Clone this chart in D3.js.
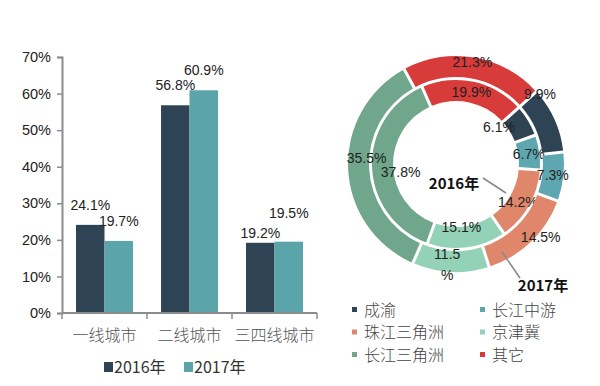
<!DOCTYPE html>
<html>
<head>
<meta charset="utf-8">
<script src="https://cdn.jsdelivr.net/npm/d3@7"></script>
<style>
  body { margin: 0; background: #fff; }
  svg { display: block; }
  .num { font-family: "Liberation Sans", Arial, sans-serif; fill: #222; }
  .cjk { font-family: "Noto Sans CJK SC", sans-serif; }
</style>
</head>
<body>
<div id="chart"></div>
<script>
// bar chart data
var categories = ["一线城市", "二线城市", "三四线城市"];
var years = ["2016年", "2017年"];
var share2016 = [24.1, 56.8, 19.2];
var share2017 = [19.7, 60.9, 19.5];
var yTicks = [0, 10, 20, 30, 40, 50, 60, 70];

// doughnut data
var regions = ["成渝", "长江中游", "珠江三角洲", "京津冀", "长江三角洲", "其它"];
var ring2016 = [6.1, 6.7, 14.2, 15.1, 37.8, 19.9];
var ring2017 = [9.9, 7.3, 14.5, 11.5, 35.5, 21.3];

var barColors = ["#2e4455", "#5ba4a9"];
var regionColors = ["#2e4455", "#5ea7b0", "#e0876b", "#93d2b7", "#70a68b", "#d73b3a"];

// label nudges (layout only)
var nudgeOuter = { "成渝": [-5, -30], "珠江三角洲": [17, 3], "京津冀": [-4, 0], "长江三角洲": [8, -10], "其它": [0, -6] };
var nudgeInner = { "成渝": [-20, 1], "京津冀": [-4, -10], "长江三角洲": [18, 6], "珠江三角洲": [-2, 2] };

var svg = d3.select("#chart").append("svg")
    .attr("width", 600)
    .attr("height", 386);

// ---------- bars ----------
var x0 = d3.scaleBand().domain(categories).range([62, 317])
    .paddingInner(0.33).paddingOuter(0.165);
var x1 = d3.scaleBand().domain(years).range([0, x0.bandwidth()]);
var y = d3.scaleLinear().domain([0, 70]).range([313, 57]);

var rows = categories.map(function(c, i) {
  return { cat: c, vals: [share2016[i], share2017[i]] };
});

// y axis
var yAxis = svg.append("g").attr("transform", "translate(62,0)")
    .call(d3.axisLeft(y).tickValues(yTicks).tickFormat(d => d + "%").tickSize(5).tickPadding(6));
yAxis.select(".domain").attr("stroke", "#8c8c8c").attr("stroke-width", 2);
yAxis.selectAll(".tick line").attr("stroke", "#8c8c8c").attr("stroke-width", 1.5);
yAxis.selectAll("text").attr("class", "num").style("font-size", "14.5px").attr("fill", "#2a2a2a");

// bars
var groups = svg.selectAll(".cat").data(rows).enter().append("g")
    .attr("transform", d => "translate(" + x0(d.cat) + ",0)");

groups.selectAll("rect").data(d => d.vals).enter().append("rect")
    .attr("x", (d, i) => x1(years[i]))
    .attr("y", d => y(d))
    .attr("width", x1.bandwidth())
    .attr("height", d => y(0) - y(d))
    .attr("fill", (d, i) => barColors[i]);

groups.selectAll(".lbl").data(function(d) {
    var close = Math.abs(d.vals[0] - d.vals[1]) < 2;
    return d.vals.map(function(v, i) {
      var off = -15;
      if (close) off = (v >= d.vals[1 - i]) ? -24 : -5;
      return { v: v, i: i, off: off };
    });
  }).enter().append("text")
    .attr("class", "num")
    .attr("x", d => x1(years[d.i]) + x1.bandwidth() / 2)
    .attr("y", d => y(d.v) + d.off)
    .attr("text-anchor", "middle")
    .style("font-size", "14px")
    .text(d => d.v.toFixed(1) + "%");

// x axis
var xAxis = svg.append("g").attr("transform", "translate(0,313)");
xAxis.append("line").attr("x1", 62).attr("x2", 317).attr("stroke", "#8c8c8c").attr("stroke-width", 2);
xAxis.selectAll(".tk").data([0, 1, 2, 3]).enter().append("line")
    .attr("x1", i => 62 + x0.step() * i).attr("x2", i => 62 + x0.step() * i)
    .attr("y1", 0).attr("y2", 6)
    .attr("stroke", "#8c8c8c").attr("stroke-width", 1.5);
xAxis.selectAll(".cl").data(categories).enter().append("text")
    .attr("class", "cjk")
    .attr("x", d => x0(d) + x0.bandwidth() / 2)
    .attr("y", 28)
    .attr("text-anchor", "middle")
    .attr("fill", "#555")
    .style("font-size", "16px")
    .style("font-weight", 300)
    .text(d => d);

// bar legend
var legX = [104, 184];
var bl = svg.selectAll(".bl").data(years).enter().append("g")
    .attr("transform", (d, i) => "translate(" + legX[i] + ",362)");
bl.append("rect").attr("width", 9).attr("height", 10).attr("y", 0)
    .attr("fill", (d, i) => barColors[i]);
bl.append("text").attr("x", 10).attr("y", 11)
    .attr("class", "cjk")
    .attr("fill", "#333")
    .style("font-size", "16px")
    .text(d => d);

// ---------- doughnut ----------
var cx = 456, cy = 164;
var start = 48 * Math.PI / 180;
var pie = d3.pie().sort(null).startAngle(start).endAngle(start + 2 * Math.PI);

var rings = [
  { name: "2016年", vals: ring2016, r0: 63, r1: 84, nudge: nudgeInner },
  { name: "2017年", vals: ring2017, r0: 87, r1: 108, nudge: nudgeOuter }
];

var dg = svg.append("g").attr("transform", "translate(" + cx + "," + cy + ")");

rings.forEach(function(ring) {
  var arc = d3.arc().innerRadius(ring.r0).outerRadius(ring.r1)
      .padAngle(0.03).padRadius(100);
  var arcs = pie(ring.vals);
  dg.append("g").selectAll("path").data(arcs).enter().append("path")
      .attr("d", arc)
      .attr("fill", (d, i) => regionColors[i]);

  var lab = dg.append("g").selectAll("text").data(arcs).enter().append("text")
      .attr("class", "num")
      .attr("text-anchor", "middle")
      .style("font-size", "14px")
      .attr("transform", function(d, i) {
        var c = arc.centroid(d);
        var n = ring.nudge[regions[i]] || [0, 0];
        return "translate(" + (c[0] + n[0]) + "," + (c[1] + n[1]) + ")";
      });
  lab.each(function(d, i) {
    var t = d3.select(this);
    var s = d.data.toFixed(1);
    if (ring.name === "2017年" && regions[i] === "京津冀") {
      t.append("tspan").attr("x", 0).attr("dy", "-0.2em").text(s);
      t.append("tspan").attr("x", 0).attr("dy", "1.5em").text("%");
    } else {
      t.attr("dy", "0.35em").text(s + "%");
    }
  });
});

// ring name callouts
dg.append("line").attr("x1", 27).attr("y1", 14).attr("x2", 50).attr("y2", 29)
    .attr("stroke", "#888").attr("stroke-width", 1.5);
dg.append("text").attr("x", -2).attr("y", 25).attr("text-anchor", "middle")
    .attr("class", "cjk").attr("fill", "#111")
    .style("font-size", "15px").style("font-weight", "bold")
    .text(rings[0].name);
dg.append("line").attr("x1", 46).attr("y1", 88).attr("x2", 64).attr("y2", 114)
    .attr("stroke", "#888").attr("stroke-width", 1.5);
dg.append("text").attr("x", 87).attr("y", 127).attr("text-anchor", "middle")
    .attr("class", "cjk").attr("fill", "#111")
    .style("font-size", "15px").style("font-weight", "bold")
    .text(rings[1].name);

// doughnut legend
var rl = svg.selectAll(".rl").data(regions).enter().append("g")
    .attr("transform", (d, i) => "translate(" + (i % 2 ? 480 : 352) + "," + (310 + Math.floor(i / 2) * 22.5) + ")");
rl.append("rect").attr("x", 0).attr("y", -3).attr("width", 5).attr("height", 5)
    .attr("fill", (d, i) => regionColors[i]);
rl.append("text").attr("x", 12).attr("y", 0).attr("dy", "0.35em")
    .attr("class", "cjk").attr("fill", "#444")
    .style("font-size", "16px").style("font-weight", 300)
    .text(d => d);
</script>
</body>
</html>
